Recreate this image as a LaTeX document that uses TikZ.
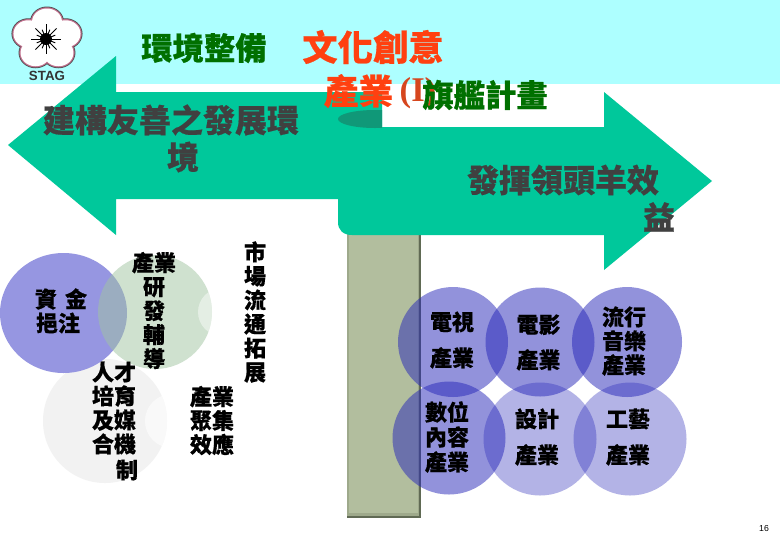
\documentclass[tikz,border=0pt]{standalone}
\usepackage{fontspec}
\setmainfont{Liberation Serif}
\newfontfamily\cjk[BoldFeatures={FakeBold=0.5}]{Noto Sans CJK TC}
\newfontfamily\lsans{Liberation Sans}
\definecolor{bandc}{RGB}{173,255,255}
\definecolor{arrowc}{RGB}{0,200,155}
\definecolor{foldc}{RGB}{16,152,120}
\definecolor{greenc}{RGB}{0,112,0}
\definecolor{orangec}{RGB}{255,64,16}
\definecolor{redc}{RGB}{214,70,30}
\definecolor{grayc}{RGB}{64,64,64}
\definecolor{circc}{RGB}{38,38,185}
\definecolor{leafc}{RGB}{161,197,161}
\definecolor{lavc}{RGB}{150,150,225}
\definecolor{colc}{RGB}{178,190,158}
\definecolor{coldk}{RGB}{96,106,84}
\definecolor{petal}{RGB}{190,110,140}
\tikzset{
  body/.style={inner sep=0pt,outer sep=0pt,align=center,text=black,font=\cjk\bfseries\fontsize{16.5}{#1}\selectfont},
  body/.default=18,
  head/.style={inner sep=0pt,outer sep=0pt,align=center,font=\cjk\bfseries\fontsize{#1}{#1}\selectfont},
  strong/.style={fill=circc,fill opacity=.5},
  soft/.style={fill=circc,fill opacity=.35}
}
\begin{document}
\begin{tikzpicture}[x=0.75pt,y=-0.75pt]
\useasboundingbox (0,0) rectangle (780,540);
\fill[white] (0,0) rectangle (780,540);
\fill[bandc] (0,0) rectangle (780,84);
% logo
\foreach \a in {90,162,234,306,18} \fill[black!70] ({47+19.5*cos(\a)},{39-17*sin(\a)}) ellipse (17 and 15.5);
\foreach \a in {90,162,234,306,18} \fill[petal] ({47+19.5*cos(\a)},{39-17*sin(\a)}) ellipse (16.2 and 14.7);
\foreach \a in {90,162,234,306,18} \fill[white] ({47+19.5*cos(\a)},{39-17*sin(\a)}) ellipse (15 and 13.5);
\fill[white] (47,39) circle (17);
\foreach \a in {0,22.5,...,337.5} \draw[black,line width=.7pt] (46,39)--+(\a:{mod(\a,45)==0 ? 15 : 10});
\fill[black] (46,39) circle (6);
\node[inner sep=0pt,font=\lsans\bfseries\fontsize{10}{10}\selectfont,text=black!80] (stag) at (47,76) {STAG};
% column
\fill[coldk] (347,225) rectangle (421,518);
\fill[colc!75!coldk] (347,225) rectangle (419,515.5);
\fill[colc] (349,225) rectangle (418,513);
% arrows
\fill[arrowc] (8,145)--(116,56)--(116,92)--(382,92)--(382,127)--(604,127)--(604,92)--(712,181)--(604,270)--(604,235)--(352,235)
  .. controls (343,235) and (338,230) .. (338,222) --(338,199)--(116,199)--(116,235)--cycle;
\begin{scope}
\clip (330,100) rectangle (382,135);
\fill[foldc] (375,119) ellipse (37 and 9);
\end{scope}
% left circles
\fill[black!5] (105,421) circle (62);
\begin{scope}
\clip (105,421) circle (62);
\fill[white,fill opacity=.6] (172,421) circle (27);
\end{scope}
\fill[lavc] (63.5,313) ellipse (63.5 and 60);
\fill[leafc,fill opacity=.5] (155,312) circle (57);
\begin{scope}
\clip (155,312) circle (57);
\fill[white,fill opacity=.45] (222,312) circle (24);
\end{scope}
% right circles
\fill[strong] (449,438) circle (56.5);
\fill[soft] (540,439) circle (56.5);
\fill[soft] (630,439) circle (56.5);
\fill[strong] (453,342) circle (55);
\fill[strong] (540,342) circle (54.5);
\fill[strong] (627,342) circle (55);
% headings
\node[head=23.5,text=greenc] (env) at (204,48) {環境整備};
\node[head=26.5,text=orangec] (cul) at (373,47) {文化創意};
\node[head=26,text=orangec] (ind) at (358.5,91) {產業};
\node[inner sep=0pt,font=\bfseries\fontsize{26}{26}\selectfont,text=redc] (one) at (418,93) {(I)};
\node[head=23.5,text=greenc] (flag) at (485,95) {旗艦計畫};
\node[head=24,text=grayc] (build) at (171,120) {建構友善之發展環};
\node[head=24,text=grayc] (build2) at (183,157) {境};
\node[head=24,text=grayc] (lead) at (563,180) {發揮領頭羊效};
\node[head=24,text=grayc] (yi) at (659,217) {益};
% left labels
\node[body] (fund1) at (35,299) [anchor=west] {資\hspace{6pt}金};
\node[body] (fund2) at (36,323) [anchor=west] {挹注};
\node[body=18] (rd) at (154,310.5) {產業\\研\\發\\輔\\導};
\node[body=18] (mkt) at (255,312) {市\\場\\流\\通\\拓\\展};
\node[body=18] (talent) at (114,408) {人才\\培育\\及媒\\合機};
\node[body] (talent2) at (127,470) {制};
\node[body=18] (clu) at (212,420.5) {產業\\聚集\\效應};
% right labels
\node[body=27] (tv) at (452,340) {電視\\產業};
\node[body=26.5] (film) at (538.5,342.5) {電影\\產業};
\node[body=18] (mus) at (624,341) {流行\\音樂\\產業};
\node[body=18.7] (dig) at (447,437) {數位\\內容\\產業};
\node[body=27] (des) at (537,437) {設計\\產業};
\node[body=27] (craft) at (628,437) {工藝\\產業};
\node[inner sep=0pt,font=\lsans\fontsize{6.5}{6.5}\selectfont,text=black] (pg) at (764,529) {16};
\end{tikzpicture}
\end{document}
